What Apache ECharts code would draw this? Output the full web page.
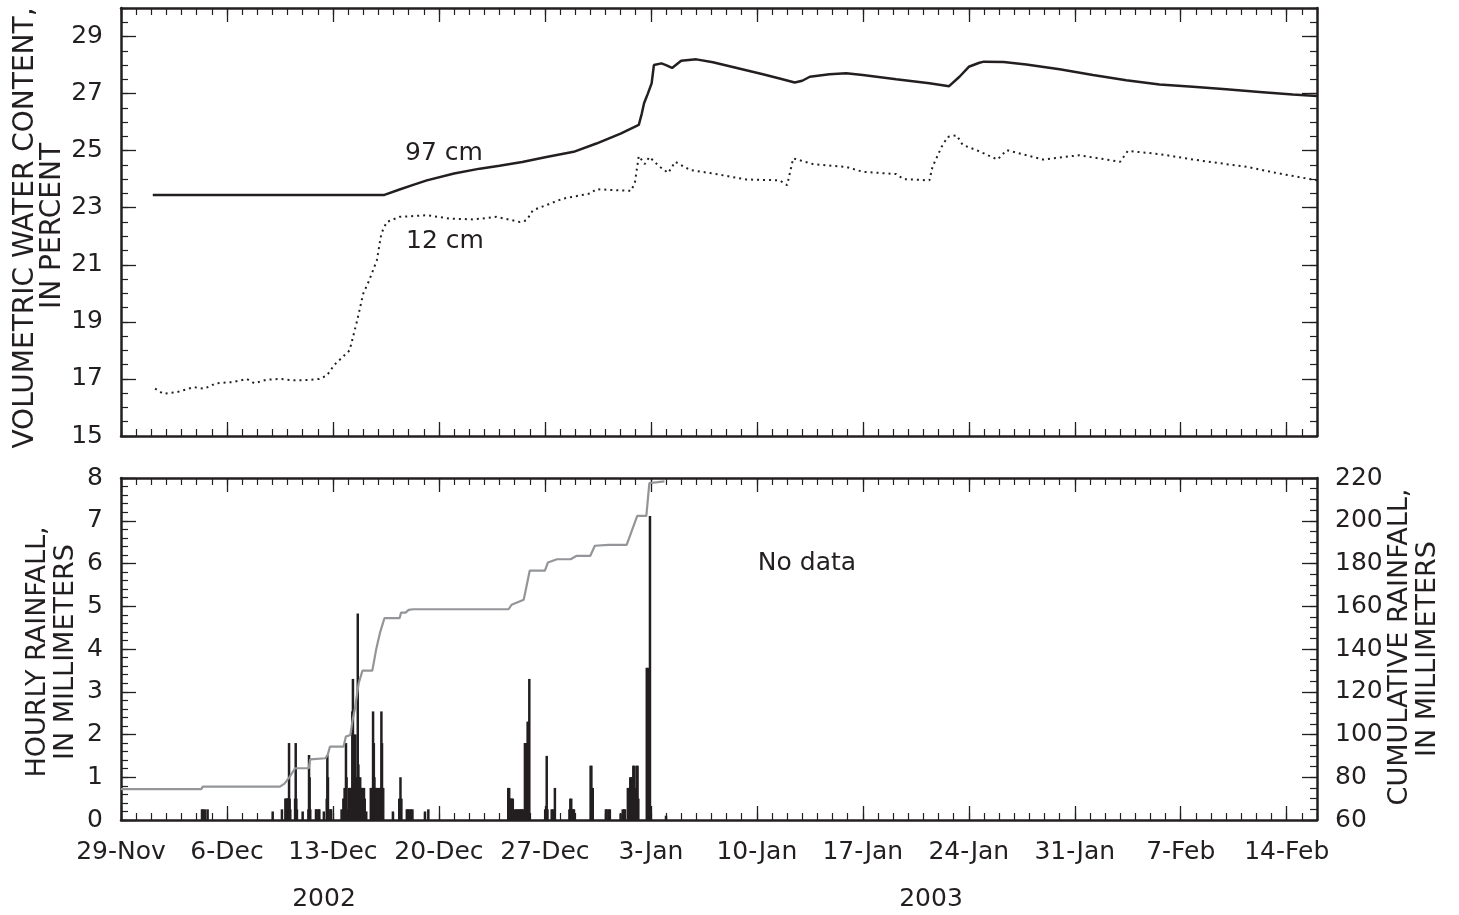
<!DOCTYPE html>
<html>
<head>
<meta charset="utf-8">
<script src="https://cdn.jsdelivr.net/npm/echarts@6/dist/echarts.min.js"></script>
<style>
html,body{margin:0;padding:0;background:#fff;}
#chart{width:1459px;height:915px;}
</style>
</head>
<body>
<div id="chart"></div>
<script>
// ---- data (x = days since 29-Nov-2002 00:00) ----
const dateTickDays = [0,7,14,21,28,35,42,49,56,63,70,77];
const dateTickLabels = ['29-Nov','6-Dec','13-Dec','20-Dec','27-Dec','3-Jan','10-Jan','17-Jan','24-Jan','31-Jan','7-Feb','14-Feb'];
const waterTicks = [15,17,19,21,23,25,27,29];
const hourlyTicks = [0,1,2,3,4,5,6,7,8];
const cumTicks = [60,80,100,120,140,160,180,200,220];

const vwc97 = [[2.1,23.45],[17.4,23.45],[18.4,23.64],[19.3,23.8],[20.2,23.96],[22.0,24.2],[23.7,24.37],[25,24.47],[26.5,24.6],[28.1,24.78],[29.9,24.96],[31.4,25.25],[33,25.6],[34.2,25.9],[34.4,26.3],[34.55,26.66],[34.8,27.0],[35.05,27.36],[35.2,28.0],[35.7,28.06],[36.0,28.0],[36.4,27.9],[37.0,28.15],[38,28.2],[39.1,28.1],[40.2,27.96],[41.3,27.82],[42.4,27.68],[43.5,27.53],[44.5,27.39],[45.0,27.45],[45.5,27.59],[46.8,27.68],[47.9,27.71],[49,27.65],[51.2,27.5],[53.4,27.36],[54.7,27.26],[55.4,27.6],[56,27.94],[56.7,28.08],[57,28.12],[58.3,28.11],[59.8,28.02],[62,27.85],[64.2,27.65],[66.4,27.47],[68.6,27.32],[70.8,27.24],[73,27.15],[75.2,27.06],[77.4,26.97],[79,26.92]];

const vwc12 = [[2.25,16.66],[2.8,16.48],[3.7,16.54],[4.8,16.71],[5.5,16.66],[6.3,16.85],[7.4,16.89],[8.3,17.0],[8.8,16.85],[9.6,16.97],[10.5,17.0],[11.4,16.95],[12.3,16.96],[13.1,17.0],[13.6,17.12],[14.1,17.5],[14.5,17.7],[15.1,18.0],[15.6,19.05],[16.0,19.99],[16.4,20.46],[16.9,21.16],[17.2,22.1],[17.55,22.5],[18.4,22.68],[20.2,22.74],[21.7,22.62],[23.3,22.59],[24.8,22.68],[26.35,22.5],[26.8,22.56],[27.2,22.91],[29.2,23.32],[31.0,23.5],[31.4,23.65],[32.5,23.62],[33.7,23.59],[33.95,23.9],[34.2,24.81],[34.6,24.53],[34.9,24.78],[35.6,24.43],[36.15,24.22],[36.6,24.61],[37.6,24.32],[39.1,24.2],[41.3,23.99],[43.5,23.96],[44.0,23.79],[44.4,24.73],[45.7,24.53],[47.9,24.43],[49,24.26],[51.2,24.18],[51.7,24.0],[53.4,23.96],[53.6,24.43],[54.2,25.13],[54.6,25.48],[55.2,25.54],[55.6,25.2],[56.5,25.02],[57.9,24.69],[58.5,25.02],[60.9,24.69],[63.3,24.84],[66,24.61],[66.5,24.99],[68.6,24.88],[70.8,24.69],[73,24.53],[74.4,24.43],[76.3,24.22],[79,23.96]];

const hourlyRain = [[5.35,0.25],[5.42,0.25],[5.55,0.25],[5.72,0.25],
[10.02,0.2],[10.63,0.25],[10.86,0.5],[10.9,0.5],[10.94,0.5],[10.98,0.5],[11.02,0.5],[11.06,0.5],[11.1,1.8],[11.14,0.5],[11.18,0.25],[11.5,0.5],[11.54,1.8],[11.58,0.5],[11.62,0.25],[12.0,0.2],[12.38,0.25],[12.42,1.52],[12.46,1.0],[12.5,0.25],[12.88,0.25],[12.92,0.25],[13.05,0.25],[13.1,0.25],[13.4,0.2],[13.59,0.5],[13.63,1.52],[13.67,1.0],[13.71,0.25],[13.84,0.25],[13.88,0.25],
[14.57,0.25],[14.69,0.5],[14.73,0.5],[14.77,0.75],[14.81,0.5],[14.86,1.8],[14.9,1.0],[14.94,0.25],[15.07,0.75],[15.11,0.75],[15.15,0.75],[15.19,0.75],[15.23,0.75],[15.28,2.54],[15.32,3.3],[15.36,0.75],[15.4,2.0],[15.44,0.75],[15.48,2.0],[15.52,0.75],[15.56,1.0],[15.6,0.75],[15.64,4.83],[15.68,1.3],[15.72,1.0],[15.76,0.75],[15.8,1.0],[15.84,0.75],[15.88,0.75],[15.92,0.75],[15.96,0.5],[16.0,0.75],[16.05,0.75],[16.1,0.5],[16.2,0.2],
[16.5,0.75],[16.55,0.75],[16.6,0.75],[16.65,2.54],[16.7,1.8],[16.74,1.0],[16.78,0.75],[16.82,0.75],[16.86,0.75],[16.92,0.75],[16.98,0.75],[17.05,0.75],[17.1,0.75],[17.14,0.75],[17.2,2.54],[17.24,1.8],[17.28,0.75],[17.32,0.75],[17.96,0.2],[18.38,0.5],[18.46,1.0],[18.52,0.5],[18.88,0.25],[18.95,0.25],[19.05,0.25],[19.15,0.25],[19.25,0.25],[20.08,0.2],[20.3,0.25],
[25.58,0.75],[25.64,0.75],[25.7,0.5],[25.76,0.5],[25.82,0.5],[25.88,0.5],[26.02,0.25],[26.1,0.25],[26.18,0.25],[26.26,0.25],[26.34,0.25],[26.42,0.25],[26.5,0.25],[26.57,0.25],[26.68,1.8],[26.74,1.8],[26.8,1.8],[26.86,2.3],[26.92,2.3],[26.97,3.3],
[28.02,0.25],[28.12,1.5],[28.17,0.25],[28.45,0.25],[28.52,0.25],[28.66,0.75],[29.62,0.25],[29.68,0.5],[29.74,0.5],[29.8,0.25],[29.86,0.25],[29.92,0.25],[31.02,1.27],[31.07,1.27],[31.12,0.75],[31.16,0.75],[32.03,0.25],[32.08,0.25],[32.22,0.25],[32.29,0.25],[33.0,0.15],[33.14,0.25],[33.24,0.25],[33.29,0.25],[33.48,0.75],[33.53,0.75],[33.58,0.75],[33.64,1.0],[33.7,1.0],[33.76,1.0],[33.84,1.27],[33.9,1.27],[33.95,0.75],[34.06,1.27],[34.12,1.27],[34.17,0.5],[34.73,3.56],[34.8,3.56],[34.94,7.11],[36.0,0.1]];

const cumRain = [[0,74.4],[5.3,74.4],[5.4,75.6],[10.5,75.6],[10.8,77],[11.15,80.3],[11.5,84.2],[12.4,84.2],[12.5,88.4],[13.5,88.9],[13.65,90.4],[13.8,94.3],[14.7,94.3],[14.85,99.0],[15.15,99.8],[15.3,106.8],[15.45,112],[15.7,124],[15.95,129.9],[16.6,129.9],[16.85,139.6],[17.1,147.4],[17.4,154.4],[18.4,154.4],[18.5,157],[18.8,157],[19.0,158.3],[19.3,158.6],[25.6,158.6],[25.8,160.7],[26.6,163],[27.0,176.7],[28.0,176.7],[28.2,180.5],[28.8,182],[29.7,182],[30.1,183.6],[31.0,183.6],[31.3,188.3],[32.2,188.7],[33.4,188.7],[34.1,202.3],[34.7,202.3],[34.9,217.6],[35.0,218.4],[35.9,218.4]];

// ---- styling ----
const INK = '#231f20';
const GRAY = '#939598';
const FONT = '"DejaVu Sans", sans-serif';

function xAx(grid, pos, weekly, labels) {
  return {
    type: 'value', gridIndex: grid, position: pos, min: 0, max: 79,
    interval: weekly ? 7 : 1,
    splitLine: {show: false},
    axisLine: {show: !weekly, onZero: false, lineStyle: {color: INK, width: 2.5}},
    axisTick: weekly
      ? {show: true, inside: true, length: 14, customValues: dateTickDays, lineStyle: {color: INK, width: 1.3}}
      : {show: true, inside: true, length: 7, lineStyle: {color: INK, width: 1.2}},
    axisLabel: labels
      ? {show: true, customValues: dateTickDays, margin: 20, color: INK, fontFamily: 'DejaVu Sans', fontSize: 25,
         formatter: v => dateTickLabels[Math.round(v / 7)]}
      : {show: false}
  };
}
function yAx(grid, pos, min, max, interval, longTicks, labels, isLong) {
  return {
    type: 'value', gridIndex: grid, position: pos, min: min, max: max, interval: interval,
    splitLine: {show: false},
    axisLine: {show: !isLong, onZero: false, lineStyle: {color: INK, width: 2.5}},
    axisTick: isLong
      ? {show: true, inside: true, length: 15, customValues: longTicks, lineStyle: {color: INK, width: 1.3}}
      : {show: true, inside: true, length: 7, lineStyle: {color: INK, width: 1.2}},
    axisLabel: labels
      ? {show: true, customValues: longTicks, margin: 18, color: INK, fontFamily: 'DejaVu Sans', fontSize: 25}
      : {show: false}
  };
}

const chart = echarts.init(document.getElementById('chart'), null, {renderer: 'canvas'});
const option = {
  animation: false,
  backgroundColor: '#fff',
  grid: [
    {left: 121, right: 142, top: 8, height: 428},
    {left: 121, right: 142, top: 478, height: 342}
  ],
  xAxis: [
    xAx(0, 'bottom', false, false),
    xAx(0, 'bottom', true, false),
    xAx(0, 'top', false, false),
    xAx(0, 'top', true, false),
    xAx(1, 'bottom', false, true),
    xAx(1, 'bottom', true, false),
    xAx(1, 'top', false, false),
    xAx(1, 'top', true, false)
  ],
  yAxis: [
    yAx(0, 'left', 15, 30, 0.5, waterTicks, true, false),
    yAx(0, 'left', 15, 30, 0.5, waterTicks, false, true),
    yAx(0, 'right', 15, 30, 0.5, waterTicks, false, false),
    yAx(0, 'right', 15, 30, 0.5, waterTicks, false, true),
    yAx(1, 'left', 0, 8, 0.2, hourlyTicks, true, false),
    yAx(1, 'left', 0, 8, 0.2, hourlyTicks, false, true),
    yAx(1, 'right', 60, 220, 5, cumTicks, true, false),
    yAx(1, 'right', 60, 220, 5, cumTicks, false, true)
  ],
  series: [
    {type: 'line', name: '97 cm', xAxisIndex: 0, yAxisIndex: 0, data: vwc97, symbol: 'none',
     lineStyle: {color: INK, width: 2.5}},
    {type: 'line', name: '12 cm', xAxisIndex: 0, yAxisIndex: 0, data: vwc12, symbol: 'none',
     lineStyle: {color: INK, width: 2, type: [2, 4]}},
    {type: 'bar', name: 'Hourly rainfall', xAxisIndex: 4, yAxisIndex: 4, data: hourlyRain, barWidth: 2.5,
     itemStyle: {color: INK}},
    {type: 'line', name: 'Cumulative rainfall', xAxisIndex: 4, yAxisIndex: 6, data: cumRain, symbol: 'none',
     lineStyle: {color: GRAY, width: 2.2}, z: 3}
  ],
  graphic: [
    {type: 'text', x: 26, y: 228, rotation: Math.PI / 2,
     style: {text: 'VOLUMETRIC WATER CONTENT,', font: '28px ' + FONT, fill: INK, align: 'center', verticalAlign: 'middle'}},
    {type: 'text', x: 53, y: 226, rotation: Math.PI / 2,
     style: {text: 'IN PERCENT', font: '28px ' + FONT, fill: INK, align: 'center', verticalAlign: 'middle'}},
    {type: 'text', x: 38, y: 652, rotation: Math.PI / 2,
     style: {text: 'HOURLY RAINFALL,', font: '27px ' + FONT, fill: INK, align: 'center', verticalAlign: 'middle'}},
    {type: 'text', x: 66, y: 652, rotation: Math.PI / 2,
     style: {text: 'IN MILLIMETERS', font: '27px ' + FONT, fill: INK, align: 'center', verticalAlign: 'middle'}},
    {type: 'text', x: 1400, y: 647, rotation: Math.PI / 2,
     style: {text: 'CUMULATIVE RAINFALL,', font: '27px ' + FONT, fill: INK, align: 'center', verticalAlign: 'middle'}},
    {type: 'text', x: 1428, y: 649, rotation: Math.PI / 2,
     style: {text: 'IN MILLIMETERS', font: '27px ' + FONT, fill: INK, align: 'center', verticalAlign: 'middle'}},
    {type: 'text', x: 444, y: 153,
     style: {text: '97 cm', font: '25px ' + FONT, fill: INK, align: 'center', verticalAlign: 'middle'}},
    {type: 'text', x: 445, y: 241,
     style: {text: '12 cm', font: '25px ' + FONT, fill: INK, align: 'center', verticalAlign: 'middle'}},
    {type: 'text', x: 807, y: 563,
     style: {text: 'No data', font: '25px ' + FONT, fill: INK, align: 'center', verticalAlign: 'middle'}},
    {type: 'text', x: 324, y: 899,
     style: {text: '2002', font: '25px ' + FONT, fill: INK, align: 'center', verticalAlign: 'middle'}},
    {type: 'text', x: 931, y: 899,
     style: {text: '2003', font: '25px ' + FONT, fill: INK, align: 'center', verticalAlign: 'middle'}}
  ]
};
chart.setOption(option);
</script>
</body>
</html>
